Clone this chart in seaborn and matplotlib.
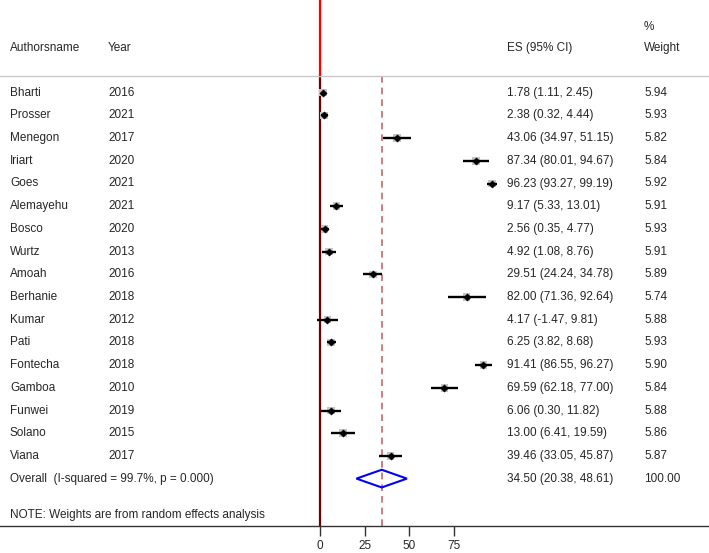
import numpy as np
import matplotlib
matplotlib.use('Agg')
import matplotlib.pyplot as plt
import seaborn as sns
import pandas as pd

# study data
authors = ['Bharti', 'Prosser', 'Menegon', 'Iriart', 'Goes', 'Alemayehu', 'Bosco', 'Wurtz',
           'Amoah', 'Berhanie', 'Kumar', 'Pati', 'Fontecha', 'Gamboa', 'Funwei', 'Solano', 'Viana']
years = [2016, 2021, 2017, 2020, 2021, 2021, 2020, 2013, 2016, 2018, 2012, 2018, 2018, 2010, 2019, 2015, 2017]
es = [1.78, 2.38, 43.06, 87.34, 96.23, 9.17, 2.56, 4.92, 29.51, 82.00, 4.17, 6.25, 91.41, 69.59, 6.06, 13.00, 39.46]
ci_low = [1.11, 0.32, 34.97, 80.01, 93.27, 5.33, 0.35, 1.08, 24.24, 71.36, -1.47, 3.82, 86.55, 62.18, 0.30, 6.41, 33.05]
ci_high = [2.45, 4.44, 51.15, 94.67, 99.19, 13.01, 4.77, 8.76, 34.78, 92.64, 9.81, 8.68, 96.27, 77.00, 11.82, 19.59, 45.87]
weights = [5.94, 5.93, 5.82, 5.84, 5.92, 5.91, 5.93, 5.91, 5.89, 5.74, 5.88, 5.93, 5.90, 5.84, 5.88, 5.86, 5.87]

overall_es = 34.50
overall_low = 20.38
overall_high = 48.61
overall_label = 'Overall  (I-squared = 99.7%, p = 0.000)'
note = 'NOTE: Weights are from random effects analysis'
xticks = [0, 25, 50, 75]

sns.set_theme(style='white')
plt.rcParams['font.family'] = ['Liberation Sans', 'DejaVu Sans']

W, H = 709, 553
fig = plt.figure(figsize=(W / 100, H / 100), dpi=100)
ax_bottom_px = 526
ax = fig.add_axes([0, (H - ax_bottom_px) / H, 1, ax_bottom_px / H])

# pixel layout -> data limits
x0_px, px_per_unit = 320, 44.7 / 25
row0_px, row_px = 92.7, 22.7
ax.set_xlim(-x0_px / px_per_unit, (W - x0_px) / px_per_unit)
y_top = -row0_px / row_px
y_bot = (ax_bottom_px - row0_px) / row_px
ax.set_ylim(y_bot, y_top)

df = pd.DataFrame({'author': authors, 'year': years, 'es': es, 'lo': ci_low,
                   'hi': ci_high, 'weight': weights})
df['row'] = np.arange(len(df))
n = len(df)
sep_row = (76 - row0_px) / row_px

# reference lines
ax.plot([0, 0], [y_top, sep_row], color='red', lw=1.6, zorder=1)
ax.plot([0, 0], [sep_row, y_bot], color='#6e0000', lw=1.6, zorder=1)
ax.plot([overall_es, overall_es], [sep_row, y_bot], color='#c06a6a', lw=1.2,
        ls=(0, (4, 3)), zorder=1)

# weight boxes, CIs and point estimates
sns.scatterplot(data=df, x='es', y='row', marker='s', s=df['weight'] * 5,
                color='#c4c4c4', edgecolor='none', legend=False, ax=ax, zorder=2)
ax.hlines(df['row'], df['lo'], df['hi'], color='black', lw=1.7, zorder=3)
sns.scatterplot(data=df, x='es', y='row', marker='D', s=14, color='black',
                edgecolor='black', legend=False, ax=ax, zorder=4)

# pooled diamond
dh = 0.39
ax.fill([overall_low, overall_es, overall_high, overall_es, overall_low],
        [n, n - dh, n, n + dh, n], facecolor='none', edgecolor='blue', lw=1.5, zorder=4)

# text columns
tr = ax.get_yaxis_transform()
fs = 8.5
col_auth, col_year, col_es, col_w = 10 / W, 108 / W, 507 / W, 644 / W
hdr_row = (48 - row0_px) / row_px
pct_row = (27 - row0_px) / row_px
ax.text(col_auth, hdr_row, 'Authorsname', transform=tr, va='center', fontsize=fs)
ax.text(col_year, hdr_row, 'Year', transform=tr, va='center', fontsize=fs)
ax.text(col_es, hdr_row, 'ES (95% CI)', transform=tr, va='center', fontsize=fs)
ax.text(col_w, pct_row, '%', transform=tr, va='center', fontsize=fs)
ax.text(col_w, hdr_row, 'Weight', transform=tr, va='center', fontsize=fs)
ax.plot([0, 1], [sep_row, sep_row], transform=tr, color='#c8c8c8', lw=1.0, clip_on=False)

for _, r in df.iterrows():
    ax.text(col_auth, r['row'], r['author'], transform=tr, va='center', fontsize=fs)
    ax.text(col_year, r['row'], str(r['year']), transform=tr, va='center', fontsize=fs)
    ax.text(col_es, r['row'], f"{r['es']:.2f} ({r['lo']:.2f}, {r['hi']:.2f})",
            transform=tr, va='center', fontsize=fs)
    ax.text(col_w, r['row'], f"{r['weight']:.2f}", transform=tr, va='center', fontsize=fs)

ax.text(col_auth, n, overall_label, transform=tr, va='center', fontsize=fs)
ax.text(col_es, n, f'{overall_es:.2f} ({overall_low:.2f}, {overall_high:.2f})',
        transform=tr, va='center', fontsize=fs)
ax.text(col_w, n, '100.00', transform=tr, va='center', fontsize=fs)
note_row = (515 - row0_px) / row_px
ax.text(col_auth, note_row, note, transform=tr, va='center', fontsize=fs)

# axis styling
for side in ['top', 'left', 'right']:
    ax.spines[side].set_visible(False)
ax.spines['bottom'].set_color('#333333')
ax.spines['bottom'].set_linewidth(1.0)
ax.set_xticks(xticks)
ax.set_xticklabels([str(t) for t in xticks])
ax.tick_params(axis='x', bottom=True, direction='out', length=7, width=1,
               color='#333333', labelsize=fs, pad=3)
ax.set_yticks([])
ax.set_xlabel('')
ax.set_ylabel('')

fig.savefig('out.png', dpi=100)
